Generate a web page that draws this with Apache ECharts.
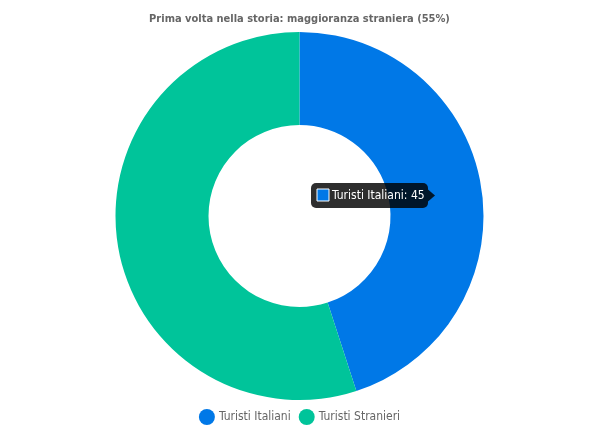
<!DOCTYPE html>
<html>
<head>
<meta charset="utf-8">
<script src="https://cdn.jsdelivr.net/npm/echarts@6/dist/echarts.min.js"></script>
<style>
html,body{margin:0;padding:0;background:#fff;}
#c{width:599px;height:433px;}
</style>
</head>
<body>
<div id="c"></div>
<script>
var titleText = 'Prima volta nella storia: maggioranza straniera (55%)';
var categories = ['Turisti Italiani', 'Turisti Stranieri'];
var values = [45, 55];
var colors = ['#0078E7', '#00C49A'];

var chart = echarts.init(document.getElementById('c'), null, {renderer: 'canvas'});

var data = categories.map(function (c, i) {
  return {name: c, value: values[i], itemStyle: {color: colors[i]}};
});

var tipText = categories[0] + ': ' + values[0];
var font = 'DejaVu Sans Condensed';

chart.setOption({
  animation: false,
  title: {
    text: titleText,
    left: 'center',
    top: 9,
    textStyle: {fontFamily: font, fontSize: 11, fontWeight: 'bold', color: '#666'}
  },
  legend: {
    bottom: 3,
    left: 'center',
    icon: 'circle',
    itemWidth: 16,
    itemHeight: 16,
    itemGap: 8,
    textStyle: {fontFamily: font, fontSize: 12, color: '#666', padding: [0, 0, 0, -1]},
    data: categories
  },
  series: [{
    type: 'pie',
    center: ['50%', 216],
    radius: [91, 184],
    startAngle: 90,
    clockwise: true,
    label: {show: false},
    labelLine: {show: false},
    emphasis: {disabled: true},
    itemStyle: {borderWidth: 0},
    data: data
  }],
  graphic: [{
    type: 'group',
    left: 311,
    top: 183,
    z: 100,
    zlevel: 1,
    children: [
      {type: 'rect', z: 100, shape: {x: 0, y: 0, width: 117, height: 25, r: 5}, style: {fill: 'rgba(0,0,0,0.82)'}},
      {type: 'polygon', z: 100, shape: {points: [[117, 6.5], [124, 12.5], [117, 18.5]]}, style: {fill: 'rgba(0,0,0,0.82)'}},
      {type: 'rect', z: 101, shape: {x: 6, y: 6, width: 12, height: 12}, style: {fill: colors[0], stroke: '#fff', lineWidth: 1}},
      {type: 'text', z: 101, x: 21, y: 12.5, style: {text: tipText, fill: '#fff', font: '12px "' + font + '"', verticalAlign: 'middle'}}
    ]
  }]
});
</script>
</body>
</html>
